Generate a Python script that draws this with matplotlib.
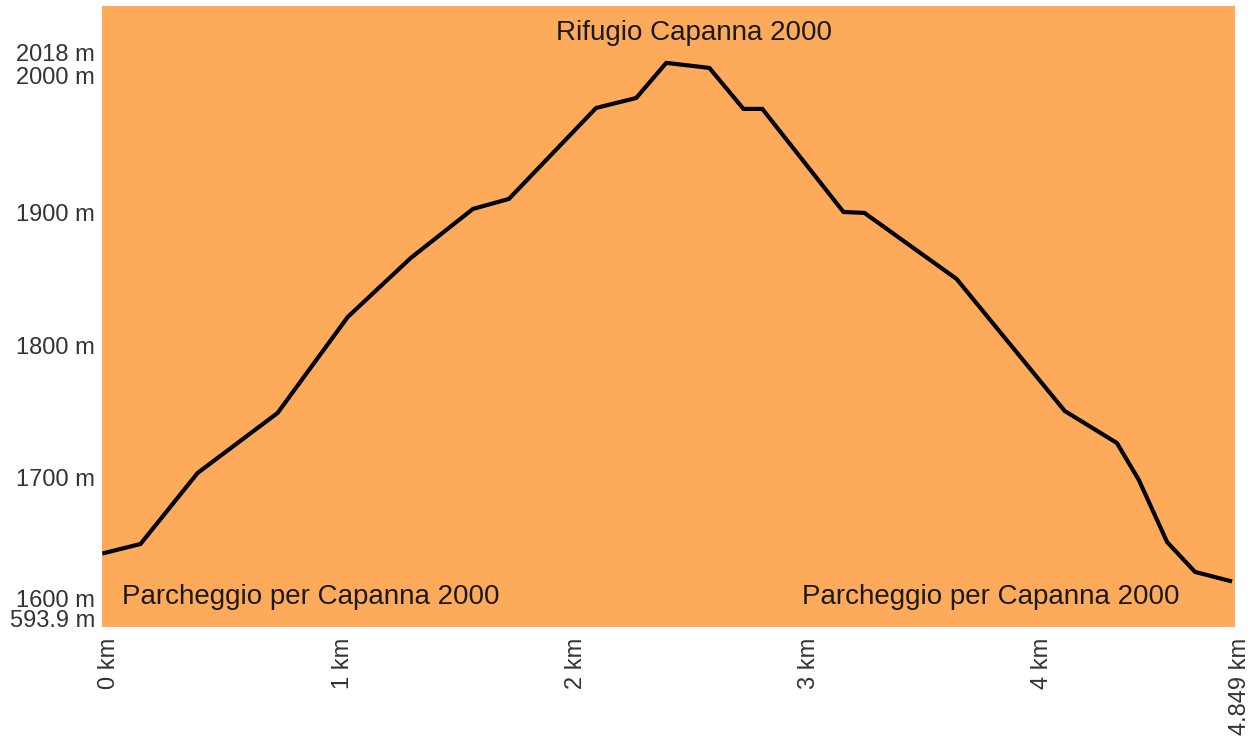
import matplotlib.pyplot as plt
import matplotlib.transforms as mtransforms

plt.rcParams['font.family'] = ['Liberation Sans', 'DejaVu Sans']

# elevation profile (km, m)
dist_km = [0.0, 0.155, 0.40, 0.743, 1.044, 1.314, 1.581, 1.735, 2.109, 2.281,
           2.41, 2.595, 2.741, 2.822, 3.17, 3.26, 3.655, 4.119, 4.343, 4.437,
           4.558, 4.678, 4.828]
elev_m = [1649.5, 1656.3, 1709.7, 1754.8, 1827.0, 1871.3, 1908.2, 1915.7, 1984.1, 1991.6,
          2018.0, 2014.2, 1983.4, 1983.4, 1905.9, 1905.2, 1855.6, 1756.3, 1732.2, 1704.4,
          1657.8, 1635.3, 1628.5]

total_km = 4.849
min_elev = 1593.9
max_elev = 2018

x_ticks = [0, 1, 2, 3, 4, total_km]
x_labels = ['0 km', '1 km', '2 km', '3 km', '4 km', '4.849 km']

y_ticks = [2018, 2000, 1900, 1800, 1700, 1600, 1593.9]
y_labels = ['2018 m', '2000 m', '1900 m', '1800 m', '1700 m', '1600 m', '593.9 m']
# how far (px) each y label is pushed up from its tick
y_nudge = [8, 9, 5, 5, 6, 18, 6]

fig = plt.figure(figsize=(12.55, 7.42), dpi=100)
ax = fig.add_axes([0.0813, 0.155, 0.9027, 0.837])
ax.set_facecolor('#fdaa5b')
ax.plot(dist_km, elev_m, color='black', linewidth=3, solid_joinstyle='miter')

ax.set_xlim(-0.01, total_km)
ax.set_ylim(min_elev, 2060.8)
for s in ax.spines.values():
    s.set_visible(False)

ax.set_xticks(x_ticks)
ax.set_xticklabels(x_labels, rotation=90, fontsize=17, color='#333333')
ax.set_yticks([])
ax.tick_params(axis='x', length=0, pad=8)

# rotated labels sit a little right of their ticks
shift = mtransforms.ScaledTranslation(5 / 100, 0, fig.dpi_scale_trans)
for lab in ax.get_xticklabels():
    lab.set_transform(lab.get_transform() + shift)

for val, lab, dy in zip(y_ticks, y_labels, y_nudge):
    ax.annotate(lab, xy=(0, val), xycoords=ax.get_yaxis_transform(),
                xytext=(-5, dy * 0.72), textcoords='offset points',
                ha='right', va='center', fontsize=17, color='#333333',
                annotation_clip=False)

ax.text(0.5225, 0.9565, 'Rifugio Capanna 2000', transform=ax.transAxes,
        ha='center', va='center', fontsize=20, color='#1a1a1a')
ax.text(0.0177, 0.0483, 'Parcheggio per Capanna 2000', transform=ax.transAxes,
        ha='left', va='center', fontsize=20, color='#1a1a1a')
ax.text(0.951, 0.0483, 'Parcheggio per Capanna 2000', transform=ax.transAxes,
        ha='right', va='center', fontsize=20, color='#1a1a1a')

fig.savefig('out.png', dpi=100)
